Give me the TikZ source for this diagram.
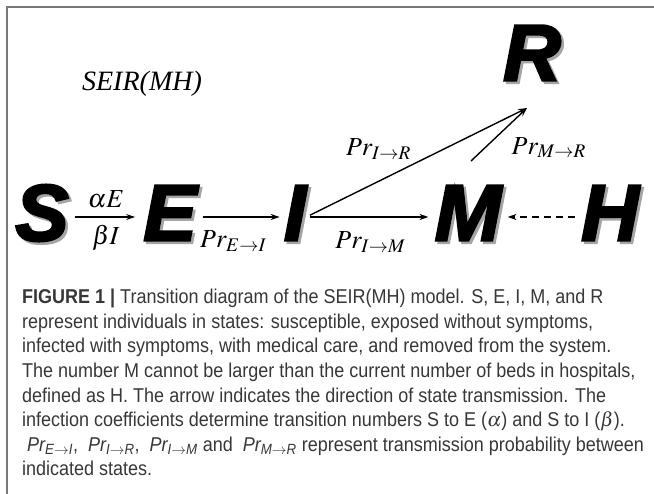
\documentclass[tikz,border=0pt]{standalone}
\usepackage{mathptmx}
\usepackage{fontspec}
\usetikzlibrary{positioning,arrows.meta,backgrounds}
\setmainfont{Liberation Serif}
\newfontfamily\statefont{Liberation Sans}[FakeBold=3]
\newfontfamily\capfont{Liberation Sans}[FakeStretch=0.9]
\definecolor{CapGray}{RGB}{55,55,55}
\definecolor{FrameGray}{RGB}{120,120,120}
\definecolor{ShadeGray}{RGB}{165,165,165}

\begin{document}
\begin{tikzpicture}[x=1pt,y=-1pt,
state/.style={font=\statefont\bfseries\itshape\fontsize{80}{80}\selectfont,inner sep=0pt},
shade/.style={state,text=ShadeGray},
arr/.style={-{Stealth[length=9pt,width=6pt]},line width=1.4pt},
lab/.style={font=\fontsize{26}{26}\selectfont,inner sep=0pt}
]
\useasboundingbox (0,0) rectangle (654,494);
\draw[FrameGray,line width=1.5pt] (654,7) -- (7,7) -- (7,494);

\node[font=\itshape\fontsize{28}{28}\selectfont] (title) at (142,84) {SEIR(MH)};

% states
\node[state] (S) at (42,213) {S};
\node[state] (E) at (170,213) {E};
\node[state] (I) at (295,213) {I};
\node[state] (M) at (468,213) {M};
\node[state] (H) at (610,213) {H};
\node[state] (R) at (532,53) {R};
\begin{scope}[on background layer]
\foreach \n in {S,E,I,M,H,R}
  \node[shade] (\n-sh) at ([shift={(2.5,2.5)}]\n.center) {\n};
\end{scope}

\coordinate (Rtip) at (527,108);
\coordinate (Mout) at (471,161);

% transitions
\draw[arr,shorten <=6pt,shorten >=8pt] ([yshift=-4]S.east) -- node[lab,above=8pt]{$\alpha E$} node[lab,below=7pt]{$\beta I$} ([yshift=-4]E.west);
\draw[arr,shorten <=6pt,shorten >=4pt] ([yshift=-4]E.east) -- node[lab,below=13pt,xshift=-7pt]{$Pr_{E\rightarrow I}$} ([yshift=-4]I.west);
\draw[arr,shorten <=4pt,shorten >=6pt] ([yshift=-4]I.east) -- node[lab,below=14pt]{$Pr_{I\rightarrow M}$} ([yshift=-4]M.west);
\draw[arr,shorten <=4pt] ([yshift=-4]I.east) -- node[lab,pos=0.3,above=24pt,xshift=6pt]{$Pr_{I\rightarrow R}$} (Rtip);
\draw[arr] (Mout) -- node[lab,below right=2pt and 12pt]{$Pr_{M\rightarrow R}$} (Rtip);
\draw[arr,dash pattern=on 7pt off 5pt,shorten <=6pt,shorten >=6pt] ([yshift=-4]H.west) -- ([yshift=-4]M.east);

\node[anchor=north west,align=left,inner sep=0pt,text=CapGray,
  font=\capfont\fontsize{20}{24.6}\selectfont] (cap) at (22,289)
{\textbf{FIGURE 1 |} Transition diagram of the SEIR(MH) model. S, E, I, M, and R\\
represent individuals in states: susceptible, exposed without symptoms,\\
infected with symptoms, with medical care, and removed from the system.\\
The number M cannot be larger than the current number of beds in hospitals,\\
defined as H. The arrow indicates the direction of state transmission. The\\
infection coefficients determine transition numbers S to E ($\alpha$) and S to I ($\beta$).\\
\ {\itshape Pr\textsubscript{E$\rightarrow$I}},\ \ {\itshape Pr\textsubscript{I$\rightarrow$R}},\ \ {\itshape Pr\textsubscript{I$\rightarrow$M}} and\ \ {\itshape Pr\textsubscript{M$\rightarrow$R}} represent transmission probability between\\
indicated states.};
\end{tikzpicture}
\end{document}
